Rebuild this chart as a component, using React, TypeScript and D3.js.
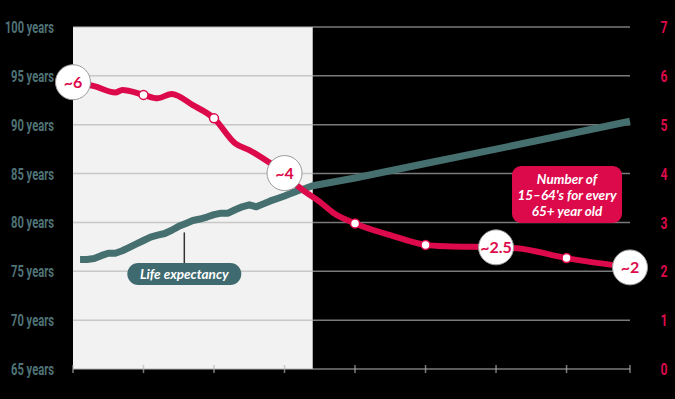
import { useRef, useEffect } from "react";
import { select, scaleLinear, line, curveMonotoneX } from "d3";

// life expectancy (left axis, years)
const lifeYears = [
  1981, 1982, 1983, 1984, 1985, 1986, 1987, 1988, 1989, 1990, 1991, 1992,
  1993, 1994, 1995, 1996, 1997, 1998, 1999, 2000, 2001, 2002, 2003, 2004,
  2005, 2006, 2007, 2008, 2009, 2010, 2011, 2012, 2013, 2014, 2020, 2030,
  2040, 2050, 2059,
];
const lifeValues = [
  76.2, 76.2, 76.3, 76.6, 76.85, 76.85, 77.1, 77.45, 77.8, 78.15, 78.5, 78.7,
  78.87, 79.2, 79.6, 79.9, 80.2, 80.35, 80.55, 80.8, 80.95, 80.95, 81.3, 81.6,
  81.8, 81.6, 81.9, 82.2, 82.45, 82.7, 83.0, 83.27, 83.5, 83.75, 84.55, 86.03,
  87.5, 89.0, 90.35,
];

// number of 15-64's per 65+ (right axis)
const ratioYears = [
  1980, 1983, 1986, 1987, 1990, 1992, 1994, 1997, 2000, 2003, 2005, 2008,
  2010, 2012, 2015, 2017, 2020, 2025, 2030, 2033, 2040, 2043, 2050, 2059,
];
const ratioValues = [
  5.87, 5.79, 5.66, 5.71, 5.61, 5.54, 5.63, 5.4, 5.13, 4.62, 4.48, 4.21, 4.01,
  3.73, 3.42, 3.19, 2.98, 2.74, 2.54, 2.51, 2.49, 2.47, 2.27, 2.08,
];

const markerYears = [1990, 2000, 2020, 2030, 2050];
const calloutYears = [1980, 2010, 2040, 2059];
const calloutLabels = ["~6", "~4", "~2.5", "~2"];

const xTicks = [1980, 1990, 2000, 2010, 2020, 2030, 2040, 2050];
const leftTicks = [65, 70, 75, 80, 85, 90, 95, 100];
const rightTicks = [0, 1, 2, 3, 4, 5, 6, 7];
const historyEnd = 2014;

const RED = "#dc0a4b";
const TEAL = "#46706f";
const GRID = "rgba(180,180,180,0.68)";
const SANS = "Lato, 'Open Sans', sans-serif";
const NARROW = "Roboto, 'Liberation Sans', sans-serif";

const App = () => {
  const ref = useRef<SVGSVGElement>(null);

  useEffect(() => {
    if (!ref.current) return;
    const svg = select(ref.current);
    svg.selectAll("*").remove();

    const W = 675;
    const H = 399;
    const x = scaleLinear().domain([1980, 2059]).range([73, 630]);
    const yL = scaleLinear().domain([65, 100]).range([369, 27]);
    const yR = scaleLinear().domain([0, 7]).range([369, 27]);
    const [x0, x1] = x.range();

    svg.append("rect").attr("width", W).attr("height", H).attr("fill", "#000");

    // historic period shading
    svg
      .append("rect")
      .attr("x", x0)
      .attr("y", yR(7))
      .attr("width", x(historyEnd) - x0)
      .attr("height", yR(0) - yR(7))
      .attr("fill", "#f2f2f2");

    // grid
    svg
      .selectAll("line.grid")
      .data(rightTicks)
      .enter()
      .append("line")
      .attr("x1", x0)
      .attr("x2", x1)
      .attr("y1", (d) => yR(d))
      .attr("y2", (d) => yR(d))
      .attr("stroke", GRID)
      .attr("stroke-width", 1.5);

    // x ticks
    svg
      .selectAll("line.tick")
      .data([...xTicks, x.domain()[1]])
      .enter()
      .append("line")
      .attr("x1", (d) => x(d))
      .attr("x2", (d) => x(d))
      .attr("y1", yR(0) - 4)
      .attr("y2", yR(0) + 4)
      .attr("stroke", GRID)
      .attr("stroke-width", 1.5);

    // left axis labels (condensed look via textLength)
    svg
      .selectAll("text.left")
      .data(leftTicks)
      .enter()
      .append("text")
      .attr("x", 54)
      .attr("y", (d) => yL(d))
      .attr("dy", "0.36em")
      .attr("text-anchor", "end")
      .attr("fill", "#4f7376")
      .attr("textLength", (d) => String(d).length * 6 + 31)
      .attr("lengthAdjust", "spacingAndGlyphs")
      .style("font-family", NARROW)
      .style("font-weight", "bold")
      .style("font-size", "16.5px")
      .text((d) => `${d} years`);

    // right axis labels
    svg
      .selectAll("text.right")
      .data(rightTicks)
      .enter()
      .append("text")
      .attr("x", 664)
      .attr("y", (d) => yR(d))
      .attr("dy", "0.36em")
      .attr("text-anchor", "middle")
      .attr("fill", RED)
      .attr("textLength", 7)
      .attr("lengthAdjust", "spacingAndGlyphs")
      .style("font-family", NARROW)
      .style("font-weight", "bold")
      .style("font-size", "17px")
      .text((d) => `${d}`);

    // life expectancy line
    const lifeLine = line<number>()
      .x((_d, i) => x(lifeYears[i]))
      .y((d) => yL(d));
    svg
      .append("path")
      .datum(lifeValues)
      .attr("d", lifeLine)
      .attr("fill", "none")
      .attr("stroke", TEAL)
      .attr("stroke-width", 7)
      .attr("stroke-linejoin", "round");

    // life expectancy label
    const ly = 1996;
    const lx = x(ly) - 1.5;
    const lyv = yL(lifeValues[lifeYears.indexOf(ly)]);
    svg
      .append("line")
      .attr("x1", lx)
      .attr("x2", lx)
      .attr("y1", lyv + 9)
      .attr("y2", 263)
      .attr("stroke", "#333")
      .attr("stroke-width", 1.5);
    svg
      .append("rect")
      .attr("x", lx - 57)
      .attr("y", 263)
      .attr("width", 114)
      .attr("height", 22)
      .attr("rx", 11)
      .attr("fill", "#3f6b70");
    svg
      .append("text")
      .attr("x", lx)
      .attr("y", 274)
      .attr("dy", "0.35em")
      .attr("text-anchor", "middle")
      .attr("fill", "#fff")
      .style("font-family", SANS)
      .style("font-style", "italic")
      .style("font-weight", "bold")
      .style("font-size", "13.5px")
      .text("Life expectancy");

    // ratio line
    const ratioLine = line<number>()
      .x((_d, i) => x(ratioYears[i]))
      .y((d) => yR(d))
      .curve(curveMonotoneX);
    svg
      .append("path")
      .datum(ratioValues)
      .attr("d", ratioLine)
      .attr("fill", "none")
      .attr("stroke", RED)
      .attr("stroke-width", 6)
      .attr("stroke-linejoin", "round");

    const valueAt = (yr: number) => ratioValues[ratioYears.indexOf(yr)];

    svg
      .selectAll("circle.marker")
      .data(markerYears)
      .enter()
      .append("circle")
      .attr("cx", (d) => x(d))
      .attr("cy", (d) => yR(valueAt(d)))
      .attr("r", 4.5)
      .attr("fill", "#fff")
      .attr("stroke", RED)
      .attr("stroke-width", 1.5);

    const callouts = svg
      .selectAll("g.callout")
      .data(calloutYears)
      .enter()
      .append("g")
      .attr("transform", (d) => `translate(${x(d)},${yR(valueAt(d))})`);
    callouts
      .append("circle")
      .attr("r", 17.5)
      .attr("fill", "#fff")
      .attr("stroke", "#9a9a9a")
      .attr("stroke-width", 1);
    callouts
      .append("text")
      .attr("dy", "0.36em")
      .attr("text-anchor", "middle")
      .attr("fill", RED)
      .style("font-family", SANS)
      .style("font-weight", "bold")
      .style("font-size", "16px")
      .text((_d, i) => calloutLabels[i]);

    // ratio label box
    svg
      .append("rect")
      .attr("x", 512)
      .attr("y", 166)
      .attr("width", 110)
      .attr("height", 57)
      .attr("rx", 9)
      .attr("fill", RED);
    svg
      .selectAll("text.box")
      .data(["Number of", "15–64's for every", "65+ year old"])
      .enter()
      .append("text")
      .attr("x", 567)
      .attr("y", (_d, i) => 179 + i * 16)
      .attr("dy", "0.35em")
      .attr("text-anchor", "middle")
      .attr("fill", "#fff")
      .style("font-family", SANS)
      .style("font-style", "italic")
      .style("font-weight", "bold")
      .style("font-size", "13.5px")
      .text((d) => d);

    return () => {
      svg.selectAll("*").remove();
    };
  }, []);

  return (
    <svg
      ref={ref}
      width={675}
      height={399}
      style={{ position: "absolute", left: 0, top: 0, display: "block" }}
    />
  );
};

export default App;
